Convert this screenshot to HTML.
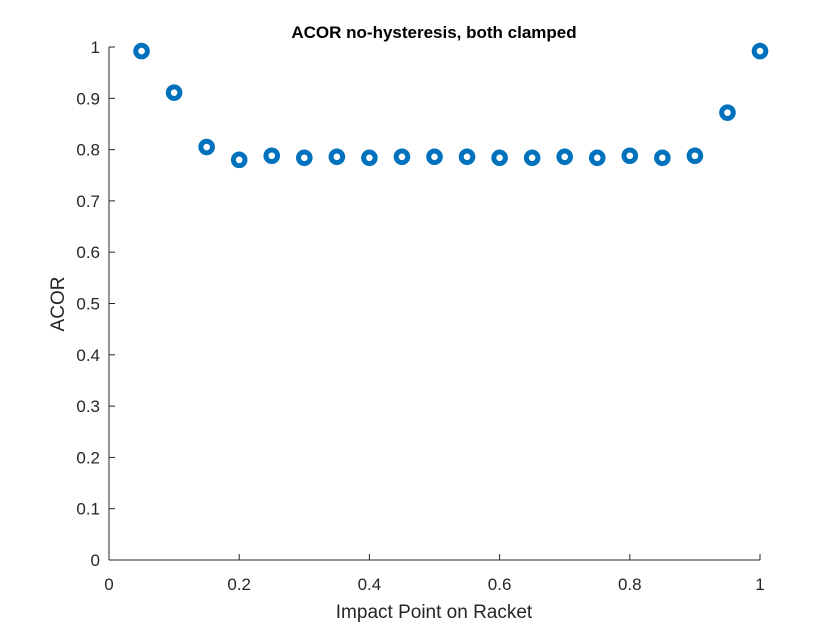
<!DOCTYPE html>
<html><head><meta charset="utf-8"><style>
body{margin:0;background:#fff}
svg text{font-family:"Liberation Sans",sans-serif;fill:#262626}
</style></head><body>
<svg id="c" width="840" height="630">
<text x="434" y="38" text-anchor="middle" font-size="17" font-weight="bold" style="fill:#000">ACOR no-hysteresis, both clamped</text>
<text x="434" y="618" text-anchor="middle" font-size="19">Impact Point on Racket</text>
<text transform="translate(64,304) rotate(-90)" text-anchor="middle" font-size="19">ACOR</text>
<g id="axes"></g><g id="marks"></g>
</svg>
<script>
const xTicks=[0,0.2,0.4,0.6,0.8,1];
const xTickLabels=["0","0.2","0.4","0.6","0.8","1"];
const yTicks=[0,0.1,0.2,0.3,0.4,0.5,0.6,0.7,0.8,0.9,1];
const yTickLabels=["0","0.1","0.2","0.3","0.4","0.5","0.6","0.7","0.8","0.9","1"];
const impactPoints=[0.05,0.1,0.15,0.2,0.25,0.3,0.35,0.4,0.45,0.5,0.55,0.6,0.65,0.7,0.75,0.8,0.85,0.9,0.95,1.0];
const acorValues=[0.992,0.911,0.805,0.780,0.788,0.784,0.786,0.784,0.786,0.786,0.786,0.784,0.784,0.786,0.784,0.788,0.784,0.788,0.872,0.992];
const L=109,R=760,T=47,B=560,NS="http://www.w3.org/2000/svg";
const xs=v=>L+(v-0)/(1-0)*(R-L), ys=v=>B-(v-0)/(1-0)*(B-T);
const ax=document.getElementById('axes'), mk=document.getElementById('marks');
function el(t,a,p){const e=document.createElementNS(NS,t);for(const k in a)e.setAttribute(k,a[k]);p.appendChild(e);return e;}
let e=el('line',{x1:L,y1:B,x2:R,y2:B,stroke:'#262626','stroke-width':1},ax);


e=el('line',{x1:L,y1:T,x2:L,y2:B,stroke:'#262626','stroke-width':1},ax);


xTicks.forEach((v,i)=>{
 const t=el('line',{x1:xs(v),y1:B,x2:xs(v),y2:B-6,stroke:'#262626'},ax);
 
 
 const l=el('text',{x:xs(v),y:B+30,'text-anchor':'middle','font-size':17},ax);l.textContent=xTickLabels[i];
 
 
});
yTicks.forEach((v,i)=>{
 const t=el('line',{x1:L,y1:ys(v),x2:L+6,y2:ys(v),stroke:'#262626'},ax);
 
 
 const l=el('text',{x:L-9,y:ys(v)+6,'text-anchor':'end','font-size':17},ax);l.textContent=yTickLabels[i];
 
 
});
impactPoints.forEach((v,i)=>{
 const c=el('circle',{cx:xs(v),cy:ys(acorValues[i]),r:5.8,fill:'none',stroke:'#0072BD','stroke-width':5},mk);
 
 
});
</script>
</body></html>
